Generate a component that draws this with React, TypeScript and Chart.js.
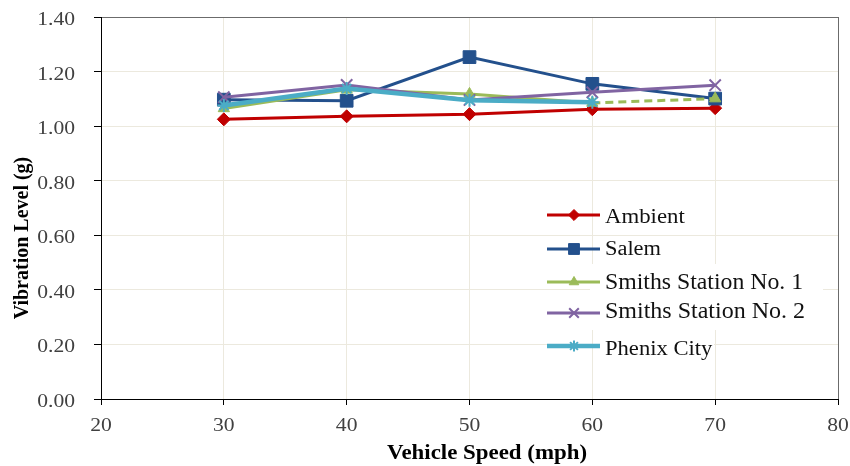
import React, { useEffect, useRef } from 'react';
import { Chart, registerables } from 'chart.js';
import { drawPoint } from 'chart.js/helpers';

Chart.register(...registerables);

const speeds = [30, 40, 50, 60, 70];
const ambient = [1.025, 1.036, 1.044, 1.062, 1.066];
const salem = [1.097, 1.093, 1.253, 1.155, 1.101];
const smiths1 = [1.065, 1.133, 1.118, 1.085, 1.101];
const smiths2 = [1.106, 1.151, 1.096, 1.124, 1.15];
const phenix = [1.076, 1.138, 1.095, 1.088, null];

const seriesNames = ['Ambient', 'Salem', 'Smiths Station No. 1', 'Smiths Station No. 2', 'Phenix City'];
const xTickValues = [20, 30, 40, 50, 60, 70, 80];
const yTickValues = [0, 0.2, 0.4, 0.6, 0.8, 1.0, 1.2, 1.4];
const xTitle = 'Vehicle Speed (mph)';
const yTitle = 'Vibration Level (g)';

const SERIF = "'Liberation Serif', 'Times New Roman', serif";

const styles = [
  { color: '#C00000', pointStyle: 'rectRot', radius: 6.5, lineWidth: 3, pbw: 1, order: 4 },
  { color: '#23508C', pointStyle: 'rect', radius: 9, lineWidth: 3, pbw: 1, order: 3 },
  { color: '#9BBB59', pointStyle: 'triangle', radius: 6.5, lineWidth: 3, pbw: 1, order: 2 },
  { color: '#8064A2', pointStyle: 'crossRot', radius: 8, lineWidth: 3, pbw: 2, order: 1 },
  { color: '#4BACC6', pointStyle: 'star', radius: 6.5, lineWidth: 4.5, pbw: 2, order: 0 },
];

const legendLayout = [
  { lineY: 215, baseY: 223, size: 20, sx: 1.14 },
  { lineY: 249, baseY: 255, size: 20, sx: 1.12 },
  { lineY: 282, baseY: 289, size: 24, sx: 0.99 },
  { lineY: 313, baseY: 318, size: 24, sx: 1.0 },
  { lineY: 346, baseY: 355, size: 20, sx: 1.13 },
];

function drawStretched(ctx: CanvasRenderingContext2D, text: string, x: number, y: number, font: string, color: string, align: 'left' | 'center' | 'right', sx: number) {
  ctx.save();
  ctx.font = font;
  ctx.fillStyle = color;
  ctx.textBaseline = 'alphabetic';
  ctx.textAlign = 'left';
  const w = ctx.measureText(text).width * sx;
  const left = align === 'left' ? x : align === 'center' ? x - w / 2 : x - w;
  ctx.translate(left, y);
  ctx.scale(sx, 1);
  ctx.fillText(text, 0, 0);
  ctx.restore();
}

const overlayPlugin = {
  id: 'overlay',
  afterDraw(chart: any) {
    const ctx: CanvasRenderingContext2D = chart.ctx;
    const xs = chart.scales.x;
    const ys = chart.scales.y;
    xTickValues.forEach((v) => {
      drawStretched(ctx, String(v), xs.getPixelForValue(v), 431, `18px ${SERIF}`, '#404040', 'center', 1.2);
    });
    yTickValues.forEach((v) => {
      drawStretched(ctx, v.toFixed(2), 75, ys.getPixelForValue(v) + 8, `18px ${SERIF}`, '#404040', 'right', 1.2);
    });
    drawStretched(ctx, xTitle, 487, 459, `bold 21px ${SERIF}`, '#000', 'center', 1.09);
    ctx.save();
    ctx.translate(28, 238);
    ctx.rotate(-Math.PI / 2);
    drawStretched(ctx, yTitle, 0, 0, `bold 20px ${SERIF}`, '#000', 'center', 1.0);
    ctx.restore();
    ctx.save();
    ctx.fillStyle = '#ffffff';
    ctx.fillRect(590, 264, 233, 66);
    ctx.fillRect(600, 336, 114, 24);
    ctx.restore();
    seriesNames.forEach((name, i) => {
      const st = styles[i];
      const lay = legendLayout[i];
      ctx.save();
      ctx.strokeStyle = st.color;
      ctx.lineWidth = st.lineWidth;
      ctx.beginPath();
      ctx.moveTo(547, lay.lineY);
      ctx.lineTo(600, lay.lineY);
      ctx.stroke();
      ctx.fillStyle = st.color;
      ctx.strokeStyle = st.color;
      ctx.lineWidth = st.pbw;
      drawPoint(ctx, { pointStyle: st.pointStyle as any, radius: st.radius * 0.85, rotation: 0, borderWidth: st.pbw }, 574, lay.lineY);
      ctx.restore();
      drawStretched(ctx, name, 605, lay.baseY, `${lay.size}px ${SERIF}`, '#111', 'left', lay.sx);
    });
  },
};

export default function App() {
  const ref = useRef<HTMLCanvasElement | null>(null);
  useEffect(() => {
    if (!ref.current) return;
    const seriesValues = [ambient, salem, smiths1, smiths2, phenix];
    const datasets = seriesValues.map((vals, i) => {
      const st = styles[i];
      return {
        label: seriesNames[i],
        data: speeds.map((s, j) => ({ x: s, y: vals[j] })),
        borderColor: st.color,
        backgroundColor: st.color,
        borderWidth: st.lineWidth,
        pointStyle: st.pointStyle,
        pointRadius: st.radius,
        pointHoverRadius: st.radius,
        pointBackgroundColor: st.color,
        pointBorderColor: st.color,
        pointBorderWidth: st.pbw,
        tension: 0,
        order: st.order,
        spanGaps: false,
        segment: i === 2 ? { borderDash: (c: any) => (c.p0DataIndex === 3 ? [8, 5] : undefined) } : undefined,
      };
    });
    const chart = new Chart(ref.current, {
      type: 'line',
      data: { datasets: datasets as any },
      options: {
        animation: false,
        responsive: false,
        devicePixelRatio: 1,
        layout: { padding: { left: 0, top: 17, right: 12, bottom: 0 } },
        plugins: { legend: { display: false }, tooltip: { enabled: false } },
        scales: {
          x: {
            type: 'linear',
            min: 20,
            max: 80,
            ticks: { display: false, stepSize: 10 },
            afterBuildTicks: (scale: any) => {
              scale.ticks = xTickValues.map((v) => ({ value: v }));
            },
            afterFit: (scale: any) => {
              scale.height = 67;
            },
            grid: {
              color: (c: any) => (c.tick && c.tick.value === 80 ? '#6b6b6b' : '#ECE9DE'),
              tickColor: '#000',
              tickLength: 6,
              lineWidth: 1,
            },
            border: { color: '#000', width: 1 },
          },
          y: {
            type: 'linear',
            min: 0,
            max: 1.4,
            ticks: { display: false, stepSize: 0.2 },
            afterBuildTicks: (scale: any) => {
              scale.ticks = yTickValues.map((v) => ({ value: v }));
            },
            afterFit: (scale: any) => {
              scale.width = 101;
            },
            grid: {
              color: (c: any) => (c.tick && Math.abs(c.tick.value - 1.4) < 1e-6 ? '#6b6b6b' : '#ECE9DE'),
              tickColor: '#000',
              tickLength: 7,
              lineWidth: 1,
            },
            border: { color: '#000', width: 1 },
          },
        },
      },
      plugins: [overlayPlugin],
    });
    return () => chart.destroy();
  }, []);
  return (
    <div style={{ position: 'absolute', left: 0, top: 0, width: 850, height: 466, background: '#fff' }}>
      <canvas ref={ref} width={850} height={466} style={{ display: 'block' }} />
    </div>
  );
}
